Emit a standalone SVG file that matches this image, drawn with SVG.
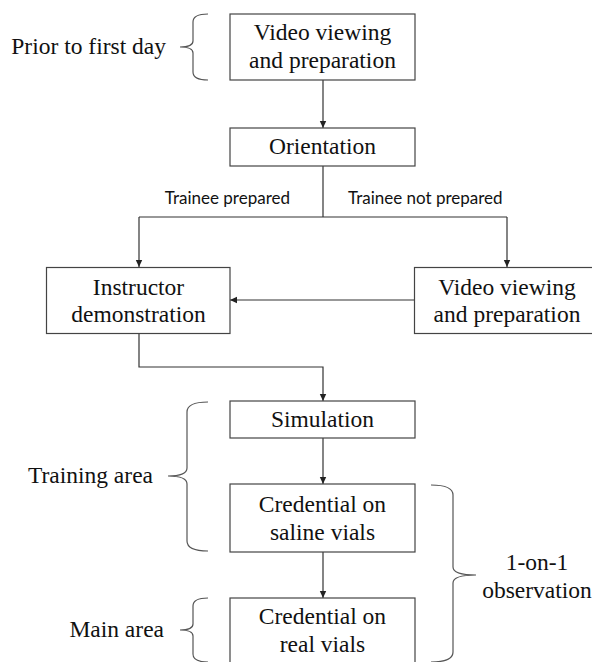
<svg xmlns="http://www.w3.org/2000/svg" width="592" height="662" viewBox="0 0 592 662">
<defs>
<marker id="ah" markerWidth="8" markerHeight="8" refX="7" refY="4" orient="auto" markerUnits="userSpaceOnUse">
<path d="M0,0.8 L7,4 L0,7.2 Z" fill="#222"/>
</marker>
<style>
.box{fill:#fff;stroke:#444;stroke-width:1.2}
.t{font-family:"Liberation Serif","Times New Roman",serif;font-size:23.5px;fill:#111;text-anchor:middle}
.lab{font-family:"Liberation Serif","Times New Roman",serif;font-size:23.5px;fill:#111}
.s{font-family:Lato,"Liberation Sans",sans-serif;font-size:17px;fill:#111}
.c{fill:none;stroke:#333;stroke-width:1.2}
.br{fill:none;stroke:#555;stroke-width:1.2}
</style>
</defs>
<rect width="592" height="662" fill="#fff"/>

<g id="connectors">
<line class="c" x1="323" y1="80" x2="323" y2="128" marker-end="url(#ah)"/>
<polyline class="c" points="323,166 323,217"/>
<polyline class="c" points="139,217 507,217"/>
<line class="c" x1="139" y1="217" x2="139" y2="267" marker-end="url(#ah)"/>
<line class="c" x1="507" y1="217" x2="507" y2="267" marker-end="url(#ah)"/>
<line class="c" x1="414" y1="300" x2="230" y2="300" marker-end="url(#ah)"/>
<polyline class="c" points="139,334 139,367 323,367 323,401" marker-end="url(#ah)"/>
<line class="c" x1="323" y1="438" x2="323" y2="484" marker-end="url(#ah)"/>
<line class="c" x1="323" y1="552" x2="323" y2="598" marker-end="url(#ah)"/>
<text class="s" x="290" y="204" text-anchor="end">Trainee prepared</text>
<text class="s" x="348" y="204">Trainee not prepared</text>
</g>

<g id="n-video1">
<rect class="box" x="230" y="14" width="185" height="66"/>
<text class="t" x="322.5" y="40">Video viewing</text>
<text class="t" x="322.5" y="68">and preparation</text>
</g>
<g id="n-orientation">
<rect class="box" x="230" y="128" width="185" height="38"/>
<text class="t" x="322.5" y="154">Orientation</text>
</g>
<g id="n-instructor">
<rect class="box" x="46.5" y="267.5" width="183.5" height="66"/>
<text class="t" x="138.5" y="295">Instructor</text>
<text class="t" x="138.5" y="322">demonstration</text>
</g>
<g id="n-video2">
<rect class="box" x="414.5" y="267.5" width="185" height="66"/>
<text class="t" x="507" y="295">Video viewing</text>
<text class="t" x="507" y="322">and preparation</text>
</g>
<g id="n-simulation">
<rect class="box" x="230" y="401" width="185" height="37"/>
<text class="t" x="322.5" y="427">Simulation</text>
</g>
<g id="n-saline">
<rect class="box" x="230" y="484" width="185" height="68"/>
<text class="t" x="322.5" y="512">Credential on</text>
<text class="t" x="322.5" y="540">saline vials</text>
</g>
<g id="n-real">
<rect class="box" x="230" y="598" width="185" height="70"/>
<text class="t" x="322.5" y="624">Credential on</text>
<text class="t" x="322.5" y="652">real vials</text>
</g>

<g id="annotations">
<path class="br" d="M208,14 Q193,14 193,22 L193,41 Q193,47 180,47 Q193,47 193,53 L193,72 Q193,80 208,80"/>
<text class="lab" x="166" y="54" text-anchor="end">Prior to first day</text>
<path class="br" d="M208,402 Q187,402 187,412 L187,468 Q187,476 168,476 Q187,476 187,484 L187,541 Q187,551 208,551"/>
<text class="lab" x="153" y="483" text-anchor="end">Training area</text>
<path class="br" d="M208,598 Q193,598 193,606 L193,624 Q193,630 180,630 Q193,630 193,636 L193,654 Q193,662 208,662"/>
<text class="lab" x="164" y="637" text-anchor="end">Main area</text>
<path class="br" d="M431,485 Q453,485 453,495 L453,567 Q453,575 476,575 Q453,575 453,583 L453,652 Q453,662 431,662"/>
<text class="t" x="537" y="570">1-on-1</text>
<text class="t" x="537" y="598">observation</text>
</g>
</svg>
